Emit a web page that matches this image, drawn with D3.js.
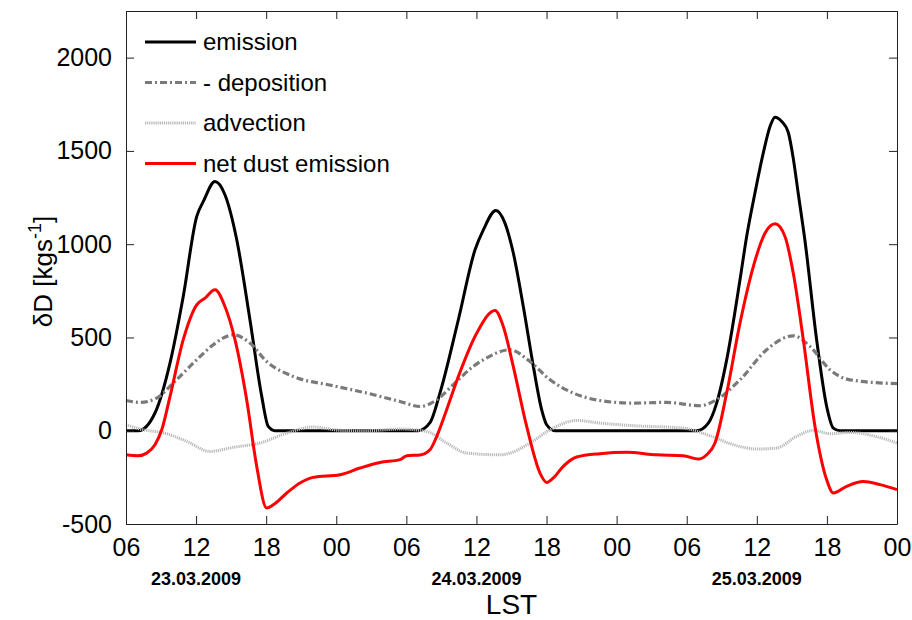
<!DOCTYPE html>
<html>
<head>
<meta charset="utf-8">
<script src="https://cdn.jsdelivr.net/npm/d3@7"></script>
<style>
  body { margin: 0; background: #fff; }
  text { font-family: "Liberation Sans", Arial, Helvetica, sans-serif; fill: #000; }
</style>
</head>
<body>
<div id="chart"></div>
<script>
// hours since 06 LST on 23.03.2009, value in kg/s
var emissionH = [0, 1.05, 2.48, 3.77, 4.9, 6.05, 6.62, 7.62, 8.47, 9.48, 10.61, 11.62, 12.18, 12.75, 25.02, 26.02, 26.88, 28.45, 29.88, 30.59, 31.67, 32.44, 33.15, 34.01, 34.87, 35.58, 36.01, 36.72, 48.85, 49.85, 50.56, 51.42, 52.56, 53.13, 53.84, 54.55, 55.13, 55.56, 56.13, 56.69, 57.12, 57.55, 58.12, 59.12, 59.98, 60.55, 61.12, 66];
var emissionV = [0, 0, 95, 364, 720, 1148, 1229, 1336, 1265, 1024, 595, 184, 23, 0, 0, 43, 203, 595, 970, 1077, 1181, 1113, 954, 666, 345, 113, 32, 0, 0, 41, 148, 380, 809, 1041, 1274, 1488, 1631, 1681, 1658, 1600, 1460, 1270, 1020, 488, 130, 14, 0, 0];

var depositionH = [0, 1.2, 2.63, 4.05, 6.05, 7.47, 9.19, 10.61, 12.04, 14.32, 17.75, 20.6, 23.45, 25.17, 26.6, 28.02, 29.73, 30.59, 32.87, 34.58, 36.3, 38.29, 40.57, 43.43, 46.28, 49.14, 50.56, 52.56, 54.84, 57.12, 58.55, 60.26, 61.97, 66];
var depositionV = [162, 152, 175, 256, 380, 461, 514, 470, 371, 291, 241, 202, 157, 130, 166, 247, 345, 380, 434, 371, 273, 202, 162, 148, 152, 134, 166, 273, 434, 509, 452, 327, 273, 252];

var advectionH = [0, 1.2, 3.48, 5.2, 7.19, 9.19, 11.47, 13.76, 16.03, 18.32, 20.6, 23.45, 25.74, 27.45, 29.16, 32.02, 32.87, 34.58, 36.3, 38.58, 40.57, 43.43, 47.71, 49.99, 51.99, 53.99, 55.7, 57.41, 58.83, 60.26, 61.97, 63.94, 66];
var advectionV = [32, 9, -16, -57, -111, -89, -66, -13, 20, 2, 0, 9, -4, -66, -120, -129, -120, -66, 5, 55, 41, 27, 14, -27, -75, -98, -93, -30, 2, -16, -9, -27, -66];

var netH = [0, 1.05, 1.77, 2.48, 3.06, 3.77, 4.9, 6.05, 6.76, 7.62, 8.47, 9.33, 10.33, 11.19, 12.04, 12.61, 13.76, 14.89, 16.03, 18.32, 20.03, 21.74, 23.45, 24.03, 25.17, 26.02, 26.6, 27.45, 28.45, 30.02, 31.59, 32.3, 33.15, 34.3, 35.44, 36.01, 36.58, 37.43, 38.58, 40.57, 42.86, 45.43, 47.71, 48.99, 49.71, 50.42, 51.42, 52.56, 53.7, 54.7, 55.56, 56.41, 57.12, 57.98, 58.98, 59.98, 60.55, 61.69, 63.11, 64.54, 66];
var netV = [-129, -134, -120, -75, 5, 184, 488, 675, 711, 756, 666, 488, 166, -191, -414, -397, -334, -280, -250, -236, -200, -170, -155, -134, -130, -102, -30, 113, 291, 523, 645, 559, 345, 23, -227, -277, -253, -191, -141, -123, -116, -129, -134, -152, -129, -66, 202, 577, 880, 1059, 1109, 1041, 845, 488, 23, -263, -334, -298, -272, -289, -316];

var xTickLabels = ["06", "12", "18", "00", "06", "12", "18", "00", "06", "12", "18", "00"];
var yTicks = [-500, 0, 500, 1000, 1500, 2000];
var dateLabels = ["23.03.2009", "24.03.2009", "25.03.2009"];
var dateHours = [6, 30, 54];

var series = [
  {name: "emission", h: emissionH, v: emissionV, color: "#000", width: 3, dash: null},
  {name: "- deposition", h: depositionH, v: depositionV, color: "#7a7a7a", width: 3.2, dash: "7,3,2,3"},
  {name: "advection", h: advectionH, v: advectionV, color: "#b8b8b8", width: 3, dash: "1.2,0.9"},
  {name: "net dust emission", h: netH, v: netV, color: "#f00", width: 3, dash: null}
];

var margin = {top: 11, right: 15, bottom: 96, left: 126},
    width = 912 - margin.left - margin.right,
    height = 620 - margin.top - margin.bottom;

var svg = d3.select("#chart")
  .append("svg")
    .attr("width", 912)
    .attr("height", 620)
  .append("g")
    .attr("transform", "translate(" + margin.left + "," + margin.top + ")");

var x = d3.scaleLinear().domain([0, 66]).range([0, width]);
var y = d3.scaleLinear().domain([-500, 2250]).range([height, 0]);

var xTicks = d3.range(0, 67, 6);

// lines
var line = d3.line()
  .x(function(d){ return x(d[0]); })
  .y(function(d){ return y(d[1]); })
  .curve(d3.curveMonotoneX);

series.forEach(function(s) {
  var pts = s.h.map(function(h, i){ return [h, s.v[i]]; });
  svg.append("path")
    .datum(pts)
    .attr("fill", "none")
    .attr("stroke", s.color)
    .attr("stroke-width", s.width)
    .attr("stroke-dasharray", s.dash)
    .attr("stroke-linejoin", "round")
    .attr("d", line);
});

// axes box with inward ticks, matlab style
var tk = 8;
var axisColor = "#222";
svg.append("g")
  .attr("transform", "translate(0," + height + ")")
  .call(d3.axisBottom(x).tickValues(xTicks).tickSizeInner(-tk).tickSizeOuter(0)
    .tickFormat(function(d, i){ return xTickLabels[i]; }).tickPadding(tk + 6))
  .call(function(g){
    g.select(".domain").attr("stroke", axisColor);
    g.selectAll(".tick line").attr("stroke", axisColor);
    g.selectAll("text").attr("font-size", 25).attr("font-family", null);
  });

svg.append("g")
  .call(d3.axisTop(x).tickValues(xTicks).tickSizeInner(-tk).tickSizeOuter(0).tickFormat(""))
  .call(function(g){
    g.select(".domain").attr("stroke", axisColor);
    g.selectAll(".tick line").attr("stroke", axisColor);
  });

svg.append("g")
  .call(d3.axisLeft(y).tickValues(yTicks).tickSizeInner(-tk).tickSizeOuter(0).tickPadding(tk + 6)
    .tickFormat(function(d){ return String(d); }))
  .call(function(g){
    g.select(".domain").attr("stroke", axisColor);
    g.selectAll(".tick line").attr("stroke", axisColor);
    g.selectAll("text").attr("font-size", 25).attr("font-family", null);
  });

svg.append("g")
  .attr("transform", "translate(" + width + ",0)")
  .call(d3.axisRight(y).tickValues(yTicks).tickSizeInner(-tk).tickSizeOuter(0).tickFormat(""))
  .call(function(g){
    g.select(".domain").attr("stroke", axisColor);
    g.selectAll(".tick line").attr("stroke", axisColor);
  });

// date labels under the 12 LST ticks
svg.selectAll(".datelab")
  .data(dateLabels)
  .enter()
  .append("text")
    .attr("x", function(d, i){ return x(dateHours[i]); })
    .attr("y", height + 61)
    .attr("text-anchor", "middle")
    .attr("font-size", 18)
    .attr("font-weight", "bold")
    .text(function(d){ return d; });

svg.append("text")
  .attr("x", width / 2)
  .attr("y", height + 90)
  .attr("text-anchor", "middle")
  .attr("font-size", 28)
  .text("LST");

var ylab = svg.append("text")
  .attr("transform", "translate(-74," + (height / 2 + 4) + ") rotate(-90)")
  .attr("text-anchor", "middle")
  .attr("font-size", 26);
ylab.append("tspan").text("\u03B4D [kgs");
ylab.append("tspan").attr("font-size", 18).attr("dy", -11).text("-1");
ylab.append("tspan").attr("dy", 11).text("]");

// legend
var leg = svg.append("g").attr("transform", "translate(19,31)");
series.forEach(function(s, i) {
  var row = leg.append("g").attr("transform", "translate(0," + (i * 40.5) + ")");
  row.append("line")
    .attr("x1", 0).attr("x2", 51)
    .attr("stroke", s.color)
    .attr("stroke-width", s.width)
    .attr("stroke-dasharray", s.dash);
  row.append("text")
    .attr("x", 58)
    .attr("dy", "0.35em")
    .attr("font-size", 24)
    .text(s.name);
});
</script>
</body>
</html>
